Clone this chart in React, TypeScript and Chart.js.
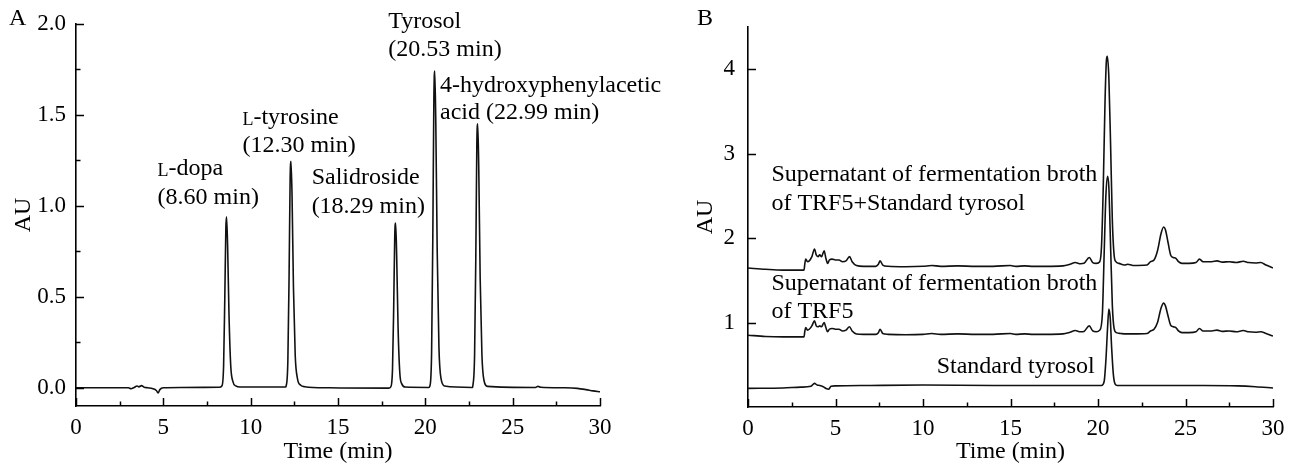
import React, { useEffect, useRef } from "react";
import { Chart, registerables } from "chart.js";

Chart.register(...registerables);

// ---------- Data: Panel A (standards mixture chromatogram) ----------
const traceA: [number, number][] = [
  [0, 0.0], [3.0, 0.0], [3.15, -0.005], [3.3, 0.0], [3.5, 0.01], [3.6, 0.005], [3.75, 0.012],
  [3.9, 0.003], [4.1, 0.0], [4.4, -0.005], [4.6, -0.015], [4.7, -0.028], [4.8, -0.01], [5.0, 0.0],
  [6.0, 0.002], [8.2, 0.003],
  [8.35, 0.01], [8.45, 0.12], [8.52, 0.5], [8.58, 0.88], [8.62, 0.94], [8.68, 0.78], [8.76, 0.4],
  [8.86, 0.12], [8.98, 0.035], [9.15, 0.01], [9.4, 0.004], [12.0, 0.005],
  [12.03, 0.01], [12.13, 0.15], [12.2, 0.62], [12.26, 1.15], [12.31, 1.245], [12.37, 1.05],
  [12.45, 0.55], [12.55, 0.18], [12.68, 0.05], [12.85, 0.015], [13.1, 0.006], [14.5, 0.0],
  [17.9, -0.002],
  [18.02, 0.005], [18.12, 0.1], [18.19, 0.45], [18.25, 0.84], [18.3, 0.905], [18.36, 0.72],
  [18.44, 0.33], [18.54, 0.08], [18.66, 0.02], [18.85, 0.004], [20.2, 0.002],
  [20.26, 0.01], [20.36, 0.2], [20.43, 0.85], [20.49, 1.6], [20.54, 1.74], [20.6, 1.45],
  [20.68, 0.75], [20.78, 0.22], [20.9, 0.05], [21.1, 0.01], [22.7, 0.002],
  [22.72, 0.01], [22.82, 0.18], [22.89, 0.72], [22.95, 1.35], [23.0, 1.45], [23.06, 1.2],
  [23.14, 0.6], [23.24, 0.18], [23.36, 0.04], [23.55, 0.008],
  [26.3, 0.002], [26.45, 0.008], [26.6, 0.003], [28.0, 0.0], [28.7, -0.003], [29.2, -0.01],
  [29.6, -0.017], [30, -0.022],
];

// ---------- Data: Panel B (three chromatograms) ----------
const traceBrothPlusStd: [number, number][] = [
  [0, 1.645], [1.0, 1.63], [2.0, 1.62], [3.2, 1.62], [3.25, 1.7], [3.3, 1.75], [3.4, 1.72],
  [3.5, 1.73], [3.65, 1.78], [3.8, 1.87], [3.9, 1.8], [4.0, 1.78], [4.1, 1.8], [4.2, 1.78],
  [4.35, 1.85], [4.45, 1.76], [4.55, 1.7], [4.65, 1.74], [4.8, 1.75], [5.0, 1.74], [5.2, 1.74],
  [5.4, 1.72], [5.6, 1.73], [5.8, 1.78], [5.95, 1.72], [6.2, 1.675], [6.6, 1.665], [7.3, 1.665],
  [7.45, 1.69], [7.55, 1.73], [7.7, 1.68], [8.0, 1.665], [9.0, 1.66], [10.0, 1.665], [10.5, 1.675],
  [11.0, 1.665], [12.0, 1.67], [13.0, 1.665], [14.0, 1.665], [15.0, 1.675], [15.3, 1.665],
  [15.8, 1.67], [16.3, 1.665], [17.0, 1.665], [18.0, 1.67], [18.4, 1.69], [18.7, 1.71],
  [19.0, 1.695], [19.2, 1.7], [19.5, 1.77], [19.7, 1.71], [19.9, 1.7], [20.1, 1.72], [20.2, 1.9],
  [20.3, 2.6], [20.4, 3.6], [20.48, 4.1], [20.53, 4.15], [20.62, 3.9], [20.72, 3.1], [20.82, 2.2],
  [20.92, 1.8], [21.02, 1.72], [21.2, 1.7], [21.5, 1.68], [21.7, 1.69], [22.0, 1.675], [22.8, 1.68],
  [23.0, 1.72], [23.2, 1.74], [23.4, 1.85], [23.6, 2.05], [23.75, 2.13], [23.85, 2.1], [24.0, 1.95],
  [24.15, 1.8], [24.3, 1.77], [24.45, 1.76], [24.6, 1.72], [24.8, 1.7], [25.2, 1.7], [25.6, 1.71],
  [25.8, 1.75], [26.0, 1.72], [26.5, 1.72], [26.8, 1.73], [27.1, 1.715], [27.5, 1.72], [27.9, 1.71],
  [28.3, 1.725], [28.6, 1.71], [29.0, 1.705], [29.3, 1.71], [29.6, 1.68], [30, 1.645],
];

const traceBroth: [number, number][] = [
  [0, 0.85], [1.0, 0.835], [2.0, 0.83], [3.2, 0.83], [3.25, 0.9], [3.3, 0.94], [3.4, 0.91],
  [3.5, 0.92], [3.65, 0.96], [3.8, 1.02], [3.9, 0.96], [4.0, 0.95], [4.1, 0.96], [4.2, 0.95],
  [4.35, 1.0], [4.45, 0.94], [4.55, 0.89], [4.65, 0.92], [4.8, 0.93], [5.0, 0.92], [5.2, 0.92],
  [5.4, 0.9], [5.6, 0.91], [5.8, 0.95], [5.95, 0.9], [6.2, 0.865], [6.6, 0.86], [7.3, 0.86],
  [7.45, 0.88], [7.55, 0.92], [7.7, 0.87], [8.0, 0.86], [9.0, 0.855], [10.0, 0.86], [10.5, 0.87],
  [11.0, 0.86], [12.0, 0.865], [13.0, 0.86], [14.0, 0.86], [15.0, 0.87], [15.3, 0.86],
  [15.8, 0.865], [16.3, 0.86], [17.0, 0.86], [18.0, 0.865], [18.4, 0.885], [18.7, 0.905],
  [19.0, 0.89], [19.2, 0.895], [19.5, 0.96], [19.7, 0.9], [19.9, 0.89], [20.1, 0.91], [20.25, 1.1],
  [20.35, 1.8], [20.45, 2.5], [20.55, 2.73], [20.62, 2.6], [20.72, 1.9], [20.82, 1.2], [20.92, 0.93],
  [21.05, 0.88], [21.3, 0.87], [21.6, 0.865], [22.0, 0.865], [22.8, 0.87], [23.0, 0.9], [23.2, 0.92],
  [23.4, 1.0], [23.6, 1.17], [23.75, 1.23], [23.85, 1.2], [24.0, 1.08], [24.15, 0.97], [24.3, 0.95],
  [24.45, 0.94], [24.6, 0.9], [24.8, 0.88], [25.2, 0.88], [25.6, 0.89], [25.8, 0.93], [26.0, 0.9],
  [26.5, 0.9], [26.8, 0.91], [27.1, 0.895], [27.5, 0.9], [27.9, 0.89], [28.3, 0.905], [28.6, 0.89],
  [29.0, 0.885], [29.3, 0.89], [29.6, 0.87], [30, 0.84],
];

const traceStdTyrosol: [number, number][] = [
  [0, 0.22], [2.0, 0.225], [3.0, 0.235], [3.6, 0.245], [3.8, 0.28], [3.95, 0.26], [4.1, 0.255],
  [4.3, 0.24], [4.5, 0.215], [4.6, 0.21], [4.75, 0.245], [5.0, 0.25], [7.0, 0.255], [10.0, 0.26],
  [14.0, 0.255], [18.0, 0.255], [20.2, 0.255], [20.35, 0.3], [20.45, 0.55], [20.55, 0.95],
  [20.62, 1.16], [20.7, 1.05], [20.78, 0.7], [20.88, 0.38], [20.98, 0.27], [21.1, 0.255],
  [23.0, 0.255], [26.0, 0.255], [28.0, 0.25], [29.0, 0.24], [30, 0.225],
];

// ---------- Ticks ----------
const xTicks = [0, 5, 10, 15, 20, 25, 30];
const xMinorTicks = [2.5, 7.5, 12.5, 17.5, 22.5, 27.5];
const yTicksA = [0, 0.5, 1.0, 1.5, 2.0];
const yMinorTicksA = [0.25, 0.75, 1.25, 1.75];
const yTicksB = [1, 2, 3, 4];
const yMinorTicksB: number[] = [];

// ---------- Text ----------
type Seg = { t: string; small?: boolean };
type Note = { x: number; y: number; align: "left" | "right"; gap: number; lines: Seg[][] };

const notesA: Note[] = [
  { x: 4.67, y: 1.203, align: "left", gap: 28.4, lines: [[{ t: "L", small: true }, { t: "-dopa" }], [{ t: "(8.60 min)" }]] },
  { x: 9.53, y: 1.486, align: "left", gap: 28.4, lines: [[{ t: "L", small: true }, { t: "-tyrosine" }], [{ t: "(12.30 min)" }]] },
  { x: 13.49, y: 1.157, align: "left", gap: 29.3, lines: [[{ t: "Salidroside" }], [{ t: "(18.29 min)" }]] },
  { x: 17.88, y: 2.013, align: "left", gap: 28.6, lines: [[{ t: "Tyrosol" }], [{ t: "(20.53 min)" }]] },
  { x: 20.84, y: 1.66, align: "left", gap: 26.7, lines: [[{ t: "4-hydroxyphenylacetic" }], [{ t: "acid (22.99 min)" }]] },
];

const notesB: Note[] = [
  { x: 1.34, y: 2.747, align: "left", gap: 28.3, lines: [[{ t: "Supernatant of fermentation broth" }], [{ t: "of TRF5+Standard tyrosol" }]] },
  { x: 1.34, y: 1.465, align: "left", gap: 28.3, lines: [[{ t: "Supernatant of fermentation broth" }], [{ t: "of TRF5" }]] },
  { x: 19.81, y: 0.482, align: "right", gap: 28.3, lines: [[{ t: "Standard tyrosol" }]] },
];

const FONT = "'Liberation Serif', 'Times New Roman', Times, serif";
const FS = 24;

function inwardTicksPlugin(xMaj: number[], xMin: number[], yMaj: number[], yMin: number[]) {
  return {
    id: "inwardTicks",
    afterDraw(chart: any) {
      const { ctx, chartArea, scales } = chart;
      ctx.save();
      ctx.strokeStyle = "#000";
      ctx.lineWidth = 1.5;
      const xs = scales.x;
      const ys = scales.y;
      const drawX = (v: number, len: number) => {
        const p = Math.round(xs.getPixelForValue(v)) + 0.5;
        ctx.beginPath();
        ctx.moveTo(p, chartArea.bottom);
        ctx.lineTo(p, chartArea.bottom - len);
        ctx.stroke();
      };
      const drawY = (v: number, len: number) => {
        const p = Math.round(ys.getPixelForValue(v)) + 0.5;
        ctx.beginPath();
        ctx.moveTo(chartArea.left, p);
        ctx.lineTo(chartArea.left + len, p);
        ctx.stroke();
      };
      xMaj.forEach((v) => drawX(v, 8));
      xMin.forEach((v) => drawX(v, 4.5));
      yMaj.forEach((v) => drawY(v, 8));
      yMin.forEach((v) => drawY(v, 4.5));
      ctx.restore();
    },
  };
}

function notesPlugin(notes: Note[], panelLetter: string, letterX: number, letterY: number) {
  return {
    id: "notes",
    afterDraw(chart: any) {
      const { ctx, scales } = chart;
      ctx.save();
      ctx.fillStyle = "#000";
      ctx.textBaseline = "middle";
      notes.forEach((n) => {
        const px = scales.x.getPixelForValue(n.x);
        const py0 = scales.y.getPixelForValue(n.y);
        n.lines.forEach((line, i) => {
          const py = py0 + i * n.gap;
          const widths = line.map((s) => {
            ctx.font = `${s.small ? Math.round(FS * 0.76) : FS}px ${FONT}`;
            return ctx.measureText(s.t).width;
          });
          const total = widths.reduce((a, b) => a + b, 0);
          let cx = n.align === "left" ? px : px - total;
          ctx.textAlign = "left";
          line.forEach((s, k) => {
            ctx.font = `${s.small ? Math.round(FS * 0.76) : FS}px ${FONT}`;
            ctx.fillText(s.t, cx, s.small ? py + 2.5 : py);
            cx += widths[k];
          });
        });
      });
      ctx.font = `${FS}px ${FONT}`;
      ctx.textAlign = "left";
      ctx.fillText(panelLetter, letterX, letterY);
      ctx.restore();
    },
  };
}

function baseOptions(opts: {
  yMin: number; yMax: number; yTicks: number[]; yFmt: (v: number) => string;
  padTop: number; padRight: number; yWidth: number; xHeight: number; yTickPad: number; yTitlePad: number;
}): any {
  const font = { family: FONT, size: 23 };
  return {
    animation: false,
    responsive: false,
    maintainAspectRatio: false,
    events: [],
    layout: { padding: { top: opts.padTop, right: opts.padRight, bottom: 0, left: 0 } },
    plugins: { legend: { display: false }, tooltip: { enabled: false }, title: { display: false } },
    elements: { point: { radius: 0 } },
    scales: {
      x: {
        type: "linear",
        min: 0,
        max: 30,
        grid: { display: false, drawTicks: false },
        border: { display: true, color: "#000", width: 1.6 },
        afterBuildTicks: (s: any) => { s.ticks = xTicks.map((v) => ({ value: v })); },
        afterFit: (s: any) => { s.height = opts.xHeight; },
        ticks: { color: "#000", font, padding: 8, maxRotation: 0, autoSkip: false, callback: (v: any) => String(v) },
        title: { display: true, text: "Time (min)", color: "#000", font: { family: FONT, size: FS }, padding: { top: 0, bottom: 0 } },
      },
      y: {
        type: "linear",
        min: opts.yMin,
        max: opts.yMax,
        grid: { display: false, drawTicks: false },
        border: { display: true, color: "#000", width: 1.6 },
        afterBuildTicks: (s: any) => { s.ticks = opts.yTicks.map((v) => ({ value: v })); },
        afterFit: (s: any) => { s.width = opts.yWidth; },
        ticks: { color: "#000", font, padding: opts.yTickPad, autoSkip: false, callback: (v: any) => opts.yFmt(Number(v)) },
        title: { display: true, text: "AU", color: "#000", font: { family: FONT, size: FS }, padding: { top: opts.yTitlePad, bottom: 0 } },
      },
    },
  };
}

function dataset(trace: [number, number][]) {
  return {
    data: trace.map(([x, y]) => ({ x, y })),
    borderColor: "#111",
    borderWidth: 1.6,
    pointRadius: 0,
    fill: false,
    cubicInterpolationMode: "monotone",
  };
}

export default function App() {
  const refA = useRef<HTMLCanvasElement>(null);
  const refB = useRef<HTMLCanvasElement>(null);

  useEffect(() => {
    const chartA = new Chart(refA.current as HTMLCanvasElement, {
      type: "line",
      data: { datasets: [dataset(traceA)] } as any,
      options: baseOptions({
        yMin: -0.1, yMax: 2.0, yTicks: yTicksA, yFmt: (v) => v.toFixed(1),
        padTop: 23, padRight: 100, yWidth: 76, xHeight: 60, yTickPad: 10, yTitlePad: 9,
      }),
      plugins: [inwardTicksPlugin(xTicks, xMinorTicks, yTicksA, yMinorTicksA), notesPlugin(notesA, "A", 9, 19)],
    } as any);
    const chartB = new Chart(refB.current as HTMLCanvasElement, {
      type: "line",
      data: { datasets: [dataset(traceBrothPlusStd), dataset(traceBroth), dataset(traceStdTyrosol)] } as any,
      options: baseOptions({
        yMin: 0, yMax: 4.5, yTicks: yTicksB, yFmt: (v) => String(v),
        padTop: 22, padRight: 26, yWidth: 98, xHeight: 59, yTickPad: 13, yTitlePad: 41,
      }),
      plugins: [inwardTicksPlugin(xTicks, xMinorTicks, yTicksB, yMinorTicksB), notesPlugin(notesB, "B", 47, 19)],
    } as any);
    return () => {
      chartA.destroy();
      chartB.destroy();
    };
  }, []);

  return (
    <div style={{ position: "fixed", left: 0, top: 0, width: 1299, height: 466, background: "#fff", overflow: "hidden" }}>
      <canvas ref={refA} width={700} height={466} style={{ position: "absolute", left: 0, top: 0, width: 700, height: 466 }} />
      <canvas ref={refB} width={649} height={466} style={{ position: "absolute", left: 650, top: 0, width: 649, height: 466 }} />
    </div>
  );
}
